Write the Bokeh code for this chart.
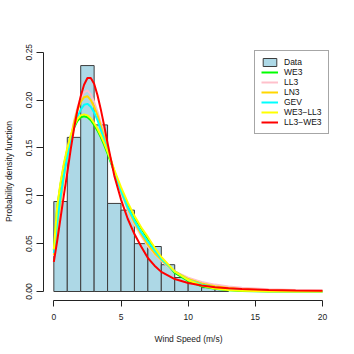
from bokeh.plotting import figure
from bokeh.models import FixedTicker, PrintfTickFormatter, Legend, LegendItem
from bokeh.embed import file_html
from bokeh.resources import INLINE

# ---- data ----
bin_left = [0, 1, 2, 3, 4, 5, 6, 7, 8, 9, 10, 11, 12]
bin_right = [1, 2, 3, 4, 5, 6, 7, 8, 9, 10, 11, 12, 13]
density = [0.094, 0.161, 0.236, 0.174, 0.092, 0.085, 0.050, 0.047, 0.028, 0.0146, 0.0104, 0.004, 0.002]

xs = [0, 0.25, 0.5, 0.75, 1, 1.25, 1.5, 1.75, 2, 2.25, 2.5, 2.75, 3, 3.25, 3.5, 3.75, 4,
      4.5, 5, 5.5, 6, 6.5, 7, 7.5, 8, 9, 10, 11, 12, 13, 14, 16, 18, 20]

we3 = [0.043, 0.088, 0.112, 0.132, 0.148, 0.161, 0.171, 0.178, 0.182, 0.183, 0.182, 0.179, 0.174, 0.168, 0.161, 0.153, 0.144,
       0.125, 0.107, 0.091, 0.077, 0.066, 0.055, 0.045, 0.035, 0.0195, 0.011, 0.0055, 0.0028, 0.0013, 0.0005, 0.00005, 0.0, 0.0]
ll3 = [0.037, 0.066, 0.093, 0.118, 0.140, 0.160, 0.178, 0.192, 0.202, 0.208, 0.210, 0.206, 0.198, 0.188, 0.176, 0.163, 0.150,
       0.125, 0.103, 0.085, 0.070, 0.058, 0.047, 0.039, 0.032, 0.021, 0.0145, 0.010, 0.0072, 0.0053, 0.004, 0.0024, 0.0015, 0.001]
ln3 = [0.038, 0.068, 0.095, 0.120, 0.141, 0.160, 0.176, 0.189, 0.198, 0.203, 0.204, 0.200, 0.193, 0.184, 0.173, 0.161, 0.149,
       0.126, 0.105, 0.087, 0.072, 0.060, 0.049, 0.040, 0.033, 0.021, 0.013, 0.0085, 0.0055, 0.0036, 0.0024, 0.0011, 0.0005, 0.0003]
gev = [0.040, 0.072, 0.099, 0.122, 0.141, 0.157, 0.171, 0.182, 0.190, 0.195, 0.196, 0.193, 0.187, 0.179, 0.169, 0.158, 0.147,
       0.125, 0.105, 0.088, 0.074, 0.062, 0.052, 0.043, 0.034, 0.021, 0.012, 0.0072, 0.0042, 0.0025, 0.0015, 0.0006, 0.0002, 0.0001]
we3_ll3 = [0.044, 0.089, 0.114, 0.134, 0.150, 0.163, 0.173, 0.180, 0.184, 0.185, 0.184, 0.181, 0.176, 0.170, 0.163, 0.155, 0.146,
           0.127, 0.109, 0.093, 0.079, 0.067, 0.057, 0.046, 0.036, 0.021, 0.012, 0.0062, 0.0032, 0.0016, 0.0008, 0.0002, 0.00005, 0.0]
ll3_we3 = [0.031, 0.053, 0.077, 0.101, 0.124, 0.148, 0.170, 0.189, 0.204, 0.216, 0.223, 0.223, 0.217, 0.205, 0.190, 0.173, 0.155,
           0.121, 0.096, 0.076, 0.060, 0.047, 0.035, 0.027, 0.0205, 0.013, 0.0088, 0.0062, 0.0045, 0.0034, 0.0026, 0.0016, 0.001, 0.0007]

series_names = ["WE3", "LL3", "LN3", "GEV", "WE3\u2212LL3", "LL3\u2212WE3"]
series_values = [we3, ll3, ln3, gev, we3_ll3, ll3_we3]
series_colors = ["#00FF00", "#FFC0CB", "#FFD700", "#00FFFF", "#FFFF00", "#FF0000"]

x_ticks = [0, 5, 10, 15, 20]
y_ticks = [0.0, 0.05, 0.10, 0.15, 0.20, 0.25]

FONT = "Liberation Sans"
FS = "8.5px"

p = figure(width=346, height=346, output_backend="svg", toolbar_location=None,
           x_range=(-0.77, 20.82), y_range=(-0.0094, 0.2601),
           min_border_left=43, min_border_right=13, min_border_top=42, min_border_bottom=46)
p.outline_line_color = None
p.xgrid.visible = False
p.ygrid.visible = False
p.background_fill_color = "white"

items = []
hist = p.quad(left=bin_left, right=bin_right, bottom=0, top=density,
              fill_color="#ADD8E6", line_color="#3c3c3c", line_width=1)
items.append(LegendItem(label="Data", renderers=[hist]))

for name, vals, col in zip(series_names, series_values, series_colors):
    r = p.line(xs, vals, line_color=col, line_width=2)
    items.append(LegendItem(label=name, renderers=[r]))

for ax in (p.xaxis[0], p.yaxis[0]):
    ax.axis_line_color = "#222222"
    ax.major_tick_line_color = "#222222"
    ax.minor_tick_line_color = None
    ax.major_tick_in = 0
    ax.major_label_text_font = FONT
    ax.major_label_text_font_size = FS
    ax.major_label_text_color = "#222222"
    ax.axis_label_text_font = FONT
    ax.axis_label_text_font_size = FS
    ax.axis_label_text_font_style = "normal"
    ax.axis_label_text_color = "#222222"

p.xaxis.ticker = FixedTicker(ticks=x_ticks)
p.xaxis.bounds = (0, 20)
p.xaxis.major_tick_out = 6
p.xaxis.major_label_standoff = 7
p.xaxis.axis_label = "Wind Speed (m/s)"
p.xaxis.axis_label_standoff = 11

p.yaxis.ticker = FixedTicker(ticks=y_ticks)
p.yaxis.formatter = PrintfTickFormatter(format="%.2f")
p.yaxis.bounds = (0, 0.25)
p.yaxis.major_tick_out = 7
p.yaxis.major_label_standoff = 4
p.yaxis.major_label_orientation = "parallel"
p.yaxis.axis_label = "Probability density function"
p.yaxis.axis_label_standoff = 10

legend = Legend(items=items, location=(211, 166), margin=0, padding=6, spacing=0,
                glyph_width=17, glyph_height=10, label_height=10, label_standoff=6,
                label_text_font=FONT, label_text_font_size=FS, label_text_color="#111111",
                border_line_color="#4d4d4d", border_line_width=1.5,
                background_fill_color="white", background_fill_alpha=1.0)
p.add_layout(legend, "center")

open("out.html", "w").write(file_html(p, INLINE))
